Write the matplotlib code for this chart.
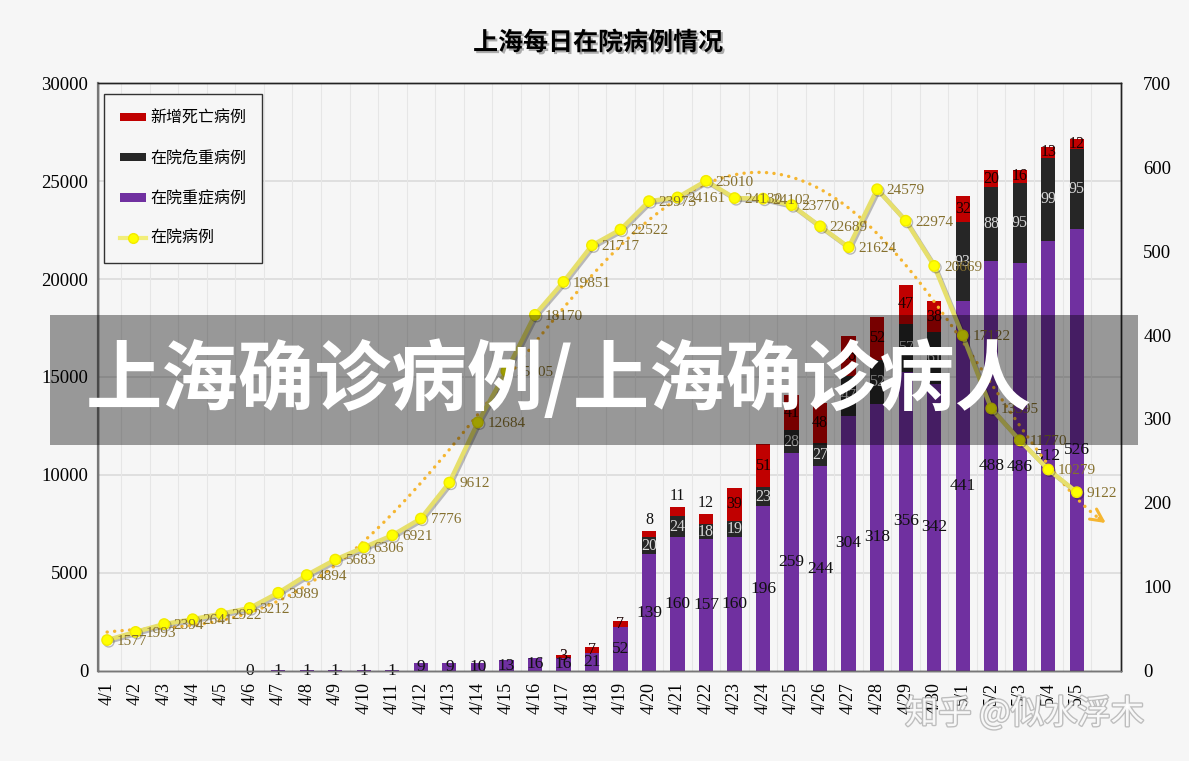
import matplotlib
matplotlib.use("Agg")
import matplotlib.pyplot as plt
import matplotlib.patheffects as pe
from matplotlib.patches import Patch, Rectangle
from matplotlib.lines import Line2D
from matplotlib.transforms import blended_transform_factory
import numpy as np

nan = np.nan

dates = [f"4/{d}" for d in range(1, 31)] + [f"5/{d}" for d in range(1, 6)]

# 在院病例 (left axis)
in_hospital = [1577, 1993, 2394, 2641, 2922, 3212, 3989, 4894, 5683, 6306,
               6921, 7776, 9612, 12684, 15305, 18170, 19851, 21717, 22522, 23973,
               24161, 25010, 24130, 24102, 23770, 22689, 21624, 24579, 22974, 20669,
               17122, 13395, 11770, 10279, 9122]

# 在院重症病例 (right axis)
severe = [nan, nan, nan, nan, nan, 0, 1, 1, 1, 1,
          1, 9, 9, 10, 13, 16, 16, 21, 52, 139,
          160, 157, 160, 196, 259, 244, 304, 318, 356, 342,
          441, 488, 486, 512, 526]

# 在院危重病例
critical = [nan] * 19 + [20, 24, 18, 19, 23, 28, 27, 47, 52, 57, 61,
                         93, 88, 95, 99, 95]

# 新增死亡病例
deaths = [nan] * 16 + [3, 7, 7, 8, 11, 12, 39, 51, 41, 48, 48, 52, 47, 38,
                       32, 20, 16, 13, 12]

red_label_above = {"4/20", "4/21", "4/22"}

left_ticks = [0, 5000, 10000, 15000, 20000, 25000, 30000]
right_ticks = [0, 100, 200, 300, 400, 500, 600, 700]

CJK = ["Noto Sans CJK SC", "DejaVu Sans"]
SERIF = ["Liberation Serif", "Noto Sans CJK SC"]
BG = "#f6f6f6"
PURPLE = "#7030a0"
DARK = "#262626"
RED = "#c00000"
LINE_LABEL = "#85702e"

fig = plt.figure(figsize=(11.89, 7.61), dpi=100, facecolor=BG)
ax = fig.add_axes([0.0824, 0.1183, 0.8604, 0.7726], facecolor=BG)
ax_line = ax.twinx()

x = np.arange(len(dates))
sev = np.array(severe, float)
crit = np.array(critical, float)
dead = np.array(deaths, float)
sev0 = np.nan_to_num(sev)
crit0 = np.nan_to_num(crit)

# gridlines
ax.set_xticks(np.arange(-0.5, len(dates), 0.5), minor=True)
ax.grid(True, which="minor", axis="x", color="#e6e6e6", lw=0.8, zorder=0)
tr = blended_transform_factory(ax.transAxes, ax_line.transData)
ax_line.set_ylim(0, 30000)
for t in left_ticks[1:-1]:
    ax.plot([0, 1], [t, t], transform=tr, color="#d9d9d9", lw=1.1, zorder=0.5)

# bars
w = 0.5
ax.bar(x, sev, width=w, color=PURPLE, zorder=2)
ax.bar(x, crit, bottom=sev0, width=w, color=DARK, zorder=2)
ax.bar(x, dead, bottom=sev0 + crit0, width=w, color=RED, zorder=2)

for i, d in enumerate(dates):
    if not np.isnan(sev[i]):
        ax.text(i, sev0[i] / 2, f"{int(sev[i])}", ha="center", va="center",
                fontsize=12.5, family=SERIF, color="#111111", zorder=3, clip_on=False)
    if not np.isnan(crit[i]):
        ax.text(i, sev0[i] + crit[i] / 2, f"{int(crit[i])}", ha="center", va="center",
                fontsize=11.5, family=SERIF, color="#d6d6d6", zorder=3)
    if not np.isnan(dead[i]):
        if d in red_label_above:
            ax.annotate(f"{int(dead[i])}", (i, sev0[i] + crit0[i] + dead[i]),
                        xytext=(0, 2), textcoords="offset points", ha="center",
                        va="bottom", fontsize=11.5, family=SERIF, color="#111111", zorder=3)
        else:
            ax.text(i, sev0[i] + crit0[i] + dead[i] / 2, f"{int(dead[i])}", ha="center",
                    va="center", fontsize=11.5, family=SERIF, color="#1a0000", zorder=3)

ax.set_ylim(0, 700)
ax.set_xlim(-0.32, 35.55)

# polynomial trend line (order 5, like the spreadsheet trendline)
coefs = np.polyfit(x, in_hospital, 5)
xt = np.linspace(0, 34.75, 300)
trend_color = "#f5b631"
ax_line.plot(xt, np.polyval(coefs, xt), color=trend_color, lw=2.4,
             ls=(0, (0.05, 2.2)), dash_capstyle="round", zorder=3)
ax_line.annotate("", xy=(35.1, np.polyval(coefs, 35.1)),
                 xytext=(34.7, np.polyval(coefs, 34.7)),
                 arrowprops=dict(arrowstyle="->", color=trend_color, lw=2.2,
                                 mutation_scale=22))

# 在院病例 line
ax_line.plot(x, in_hospital, color="#e6df6c", lw=3.2, marker="o", ms=7.5,
             mfc="#ffff00", mec="#f2ea00", zorder=4,
             path_effects=[pe.SimpleLineShadow(offset=(1.2, -1.2), alpha=0.25), pe.Normal()])
for i, v in enumerate(in_hospital):
    ax_line.annotate(f"{v}", (i, v), xytext=(7, -1), textcoords="offset points",
                     ha="left", va="center", fontsize=11, family=SERIF,
                     color=LINE_LABEL, zorder=5)

# axes styling
ax.set_xticks(x)
ax.set_xticklabels(dates, rotation=90, family=SERIF, fontsize=13)
ax.tick_params(axis="x", which="both", length=0, pad=8)
ax.yaxis.tick_right()
ax.set_yticks(right_ticks)
ax.set_yticklabels([str(t) for t in right_ticks], family=SERIF, fontsize=13.5)
ax.tick_params(axis="y", length=0, pad=16)

ax_line.yaxis.tick_left()
ax_line.set_yticks(left_ticks)
ax_line.set_yticklabels([str(t) for t in left_ticks], family=SERIF, fontsize=13.5)
ax_line.tick_params(axis="y", length=0, pad=7)

for a in (ax, ax_line):
    for s in a.spines.values():
        s.set_color("#222222")
        s.set_linewidth(1.0)
ax_line.spines["left"].set_color("#777777")
ax_line.spines["left"].set_linewidth(1.6)
ax_line.spines["bottom"].set_color("#777777")

# legend
handles = [
    Patch(facecolor=RED, label="新增死亡病例"),
    Patch(facecolor=DARK, label="在院危重病例"),
    Patch(facecolor=PURPLE, label="在院重症病例"),
    Line2D([0], [0], color="#f2ee7a", lw=3, marker="o", ms=7, mfc="#ffff00",
           mec="#f2ea00", label="在院病例"),
]
leg = ax_line.legend(handles=handles, loc="upper left", bbox_to_anchor=(0.006, 0.982),
                     frameon=True, fancybox=False, edgecolor="#333333", facecolor=BG,
                     framealpha=1, prop={"family": CJK, "size": 11.5}, borderpad=1.0,
                     labelspacing=1.45, handlelength=1.6, handleheight=0.45,
                     handletextpad=0.3, borderaxespad=0)
leg.get_frame().set_linewidth(1.0)
leg.set_zorder(10)

# title
fig.text(0.503, 1 - 43 / 761, "上海每日在院病例情况", ha="center", va="center",
         fontsize=18, weight="bold", family=CJK, color="black",
         path_effects=[pe.withSimplePatchShadow(offset=(1.5, -1.5), alpha=0.3)])

# overlay banner
fig.patches.append(Rectangle((50 / 1189, 1 - 445 / 761), 1088 / 1189, 130 / 761,
                             transform=fig.transFigure, facecolor="black",
                             alpha=0.38, edgecolor="none", zorder=20))
fig.text(86 / 1189, 1 - 380 / 761, "上海确诊病例/上海确诊病人", ha="left", va="center",
         fontsize=55, weight="black", family=CJK, color="white", zorder=21)

# watermark
fig.text(905 / 1189, 1 - 714 / 761, "知乎 @似水浮木", ha="left", va="center",
         fontsize=24, family=CJK, color="white", alpha=0.9, zorder=21,
         path_effects=[pe.withStroke(linewidth=2, foreground="#9a9a9a", alpha=0.6)])

fig.savefig("out.png", dpi=100, facecolor=BG)
